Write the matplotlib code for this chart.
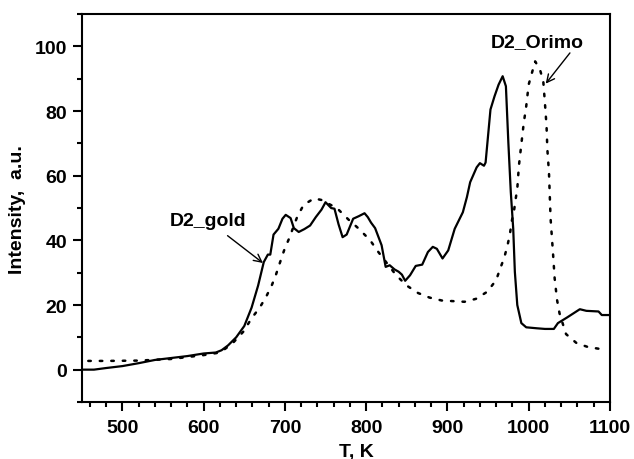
import matplotlib
matplotlib.use('Agg')
import matplotlib.pyplot as plt
from matplotlib.ticker import MultipleLocator

plt.rcParams['font.family'] = ['Liberation Sans', 'DejaVu Sans']
plt.rcParams['font.weight'] = 'bold'

# D2_gold (solid curve)
gold_T = [450, 465, 480, 500, 520, 540, 560, 580, 600, 615, 622, 630, 640, 650,
          659, 667, 674, 679, 682, 686, 692, 697, 701, 707, 711, 717, 724, 731,
          738, 745, 750, 757, 761, 766, 771, 776, 784, 791, 798, 802, 806, 811,
          819, 824, 829, 835, 840, 844, 848, 854, 861, 869, 876, 882, 887, 894,
          901, 909, 919, 924, 928, 936, 940, 945, 947, 953, 958, 963, 968, 972,
          975, 978, 981, 983, 986, 991, 997, 1010, 1020, 1031, 1036, 1047, 1063,
          1071, 1086, 1090, 1100]
gold_I = [0, 0, 0.5, 1.1, 2, 3, 3.6, 4.2, 5, 5.3, 6, 7.5, 10, 13.5,
          19.2, 26, 33.3, 35.6, 35.6, 41.8, 43.6, 46.7, 47.9, 46.9, 43.8, 42.6, 43.5, 44.6,
          47.2, 49.5, 51.8, 50, 49.8, 45, 41, 41.8, 46.7, 47.5, 48.4, 47.2, 45.5, 43.8,
          38.5, 31.8, 32.3, 31, 30.3, 29.4, 27.5, 29.2, 32.1, 32.5, 36.4, 38, 37.4, 34.4,
          36.9, 43.6, 48.7, 53.4, 58, 62.6, 63.9, 63.1, 64.1, 80.5, 84.6, 88.2, 90.8, 87.7,
          70.3, 55, 43.6, 30.3, 20, 14.4, 13.1, 12.8, 12.6, 12.6, 14.4, 16.1, 18.7,
          18.2, 18, 16.9, 16.9]

# D2_Orimo (dotted curve)
orimo_T = [450, 480, 520, 560, 600, 620, 635, 649, 659, 669, 677, 684, 689, 694,
           699, 705, 715, 723, 736, 745, 750, 764, 778, 791, 805, 815, 826, 837,
           850, 864, 878, 893, 907, 921, 935, 949, 960, 965, 970, 974, 977, 979,
           982, 984, 986, 988, 991, 994, 997, 1000, 1004, 1008, 1014, 1018, 1020,
           1022, 1023, 1025, 1026, 1027, 1030, 1032, 1035, 1038, 1046, 1059, 1073,
           1088, 1092]
orimo_I = [2.7, 2.7, 2.8, 3.3, 4.5, 5.3, 8, 11.8, 15.9, 19.2, 22.6, 26.2, 29.4, 33.2,
           36.9, 40.5, 47.2, 51, 53, 52.5, 51.8, 50, 46.5, 43.6, 40, 36.4, 32.8, 29.2,
           26, 23.7, 22.3, 21.4, 21.2, 21, 21.9, 24.1, 27.7, 31.3, 34.7, 38.5, 42, 45.7,
           49.2, 52.8, 56, 63.1, 69.8, 76.4, 81.5, 88.2, 91.8, 95.4, 92.8, 89.2, 82.6,
           75.4, 68.2, 61, 53.8, 46.7, 35.9, 28.2, 21.5, 17.4, 11, 8.2, 7,
           6.4, 6.2]

fig = plt.figure(figsize=(6.34, 4.60), dpi=100)
ax = fig.add_axes([0.129, 0.124, 0.833, 0.843])

ax.plot(gold_T, gold_I, color='black', linewidth=1.6)
ax.plot(orimo_T, orimo_I, color='black', linewidth=1.8, linestyle=(2, (1, 3.6)),
        dash_capstyle='round')

ax.set_xlim(450, 1100)
ax.set_ylim(-10, 110)
ax.xaxis.set_major_locator(MultipleLocator(100))
ax.xaxis.set_minor_locator(MultipleLocator(20))
ax.yaxis.set_major_locator(MultipleLocator(20))
ax.yaxis.set_minor_locator(MultipleLocator(10))

for s in ax.spines.values():
    s.set_linewidth(1.5)
ax.tick_params(which='major', direction='out', length=6.5, width=1.5,
               labelsize=14, pad=4)
ax.tick_params(which='minor', direction='out', length=3.5, width=1.5)
ax.tick_params(axis='x', which='major', pad=6)
for lab in ax.get_xticklabels() + ax.get_yticklabels():
    lab.set_fontweight('bold')

ax.set_xlabel('T, K', fontsize=14, fontweight='bold', labelpad=7)
ax.xaxis.set_label_coords(0.519, -0.105, transform=ax.transAxes)
ax.xaxis.label.set_va('top')
ax.set_ylabel('Intensity,  a.u.', fontsize=14, fontweight='bold', labelpad=6)

ax.annotate('D2_gold', xy=(673, 33), xytext=(606, 46),
            fontsize=14, fontweight='bold', ha='center', va='center',
            arrowprops=dict(arrowstyle='->', color='black', lw=1,
                            shrinkA=4, shrinkB=0))
ax.annotate('D2_Orimo', xy=(1021, 88.5), xytext=(1011, 101.5),
            fontsize=14, fontweight='bold', ha='center', va='center',
            arrowprops=dict(arrowstyle='->', color='black', lw=1,
                            relpos=(0.9, 0.2), shrinkA=0, shrinkB=0))

fig.savefig('out.png', dpi=100)
